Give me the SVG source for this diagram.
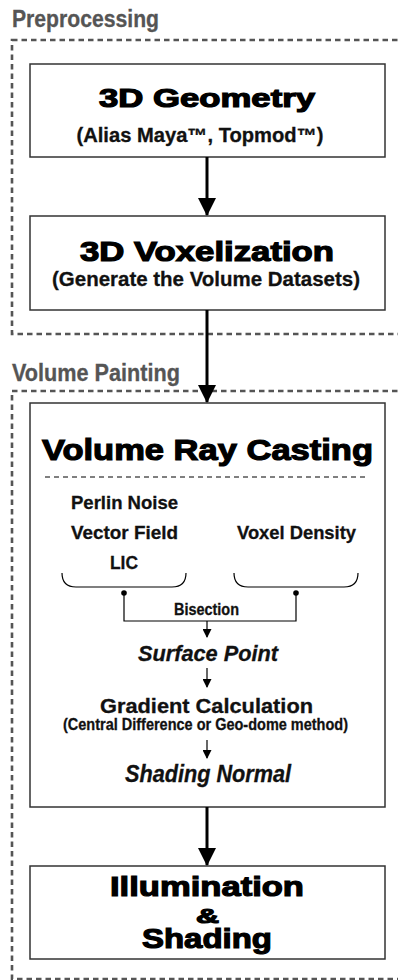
<svg xmlns="http://www.w3.org/2000/svg" width="398" height="980" viewBox="0 0 398 980">
<style>
.frame{fill:none;stroke:#555;stroke-width:2.6;stroke-dasharray:5.5 4}
.box{fill:#fff;stroke:#333;stroke-width:1.5}
.lbl{font-family:"Liberation Sans",Arial,sans-serif;font-weight:bold;fill:#555;stroke:#555;stroke-width:0.3;font-size:23.5px}
.title{font-family:"Liberation Sans",Arial,sans-serif;font-weight:bold;fill:#000;stroke:#000;stroke-width:1.2;text-anchor:middle}
.sub{font-family:"Liberation Sans Narrow","Liberation Sans",Arial,sans-serif;font-weight:bold;fill:#111;stroke:#111;stroke-width:0.3;text-anchor:middle}
.it{font-style:italic}
.conn{fill:none;stroke:#000}
</style>
<defs>
<marker id="bigArrow" markerWidth="18" markerHeight="20" refX="17" refY="9" orient="auto" markerUnits="userSpaceOnUse" viewBox="0 0 18 20">
<path d="M0,0 L18,9 L0,18 Z" fill="#000"/>
</marker>
<marker id="smallArrow" markerWidth="9" markerHeight="9" refX="8" refY="4.5" orient="auto" markerUnits="userSpaceOnUse" viewBox="0 0 9 9">
<path d="M0,0 L9,4.5 L0,9 Z" fill="#000"/>
</marker>
</defs>

<g id="frames">
<rect class="frame" x="12" y="40" width="400" height="294"/>
<rect class="frame" x="12" y="391" width="400" height="588"/>
<text class="lbl" x="12" y="27" textLength="147" lengthAdjust="spacingAndGlyphs">Preprocessing</text>
<text class="lbl" x="12" y="381" textLength="168" lengthAdjust="spacingAndGlyphs">Volume Painting</text>
</g>

<g id="node-geometry">
<rect class="box" x="30" y="64" width="355" height="93"/>
<text class="title" x="207" y="107" font-size="26" textLength="216" lengthAdjust="spacingAndGlyphs">3D Geometry</text>
<text class="sub" x="200" y="141.5" font-size="19.5" textLength="247" lengthAdjust="spacingAndGlyphs">(Alias Maya™, Topmod™)</text>
</g>

<g id="node-voxelization">
<rect class="box" x="30" y="216" width="355" height="94"/>
<text class="title" x="207" y="261" font-size="27" textLength="254" lengthAdjust="spacingAndGlyphs">3D Voxelization</text>
<text class="sub" x="206" y="286" font-size="21" textLength="308" lengthAdjust="spacingAndGlyphs">(Generate the Volume Datasets)</text>
</g>

<g id="node-raycasting">
<rect class="box" x="30" y="403" width="355" height="404"/>
<text class="title" x="207.5" y="460" font-size="30" textLength="331" lengthAdjust="spacingAndGlyphs">Volume Ray Casting</text>
<line x1="45" y1="477" x2="368" y2="477" stroke="#000" stroke-width="1" stroke-dasharray="5 4"/>
<text class="sub" x="124.5" y="508.5" font-size="19" textLength="107" lengthAdjust="spacingAndGlyphs">Perlin Noise</text>
<text class="sub" x="124.5" y="538.5" font-size="19" textLength="107" lengthAdjust="spacingAndGlyphs">Vector Field</text>
<text class="sub" x="124" y="568.5" font-size="19" textLength="28" lengthAdjust="spacingAndGlyphs">LIC</text>
<text class="sub" x="296.5" y="538.5" font-size="19" textLength="119" lengthAdjust="spacingAndGlyphs">Voxel Density</text>
<path d="M62,573 Q62,587 76,587 L172,587 Q186,587 186,573" fill="none" stroke="#000" stroke-width="1.2"/>
<path d="M234,573 Q234,587 248,587 L344,587 Q358,587 358,573" fill="none" stroke="#000" stroke-width="1.2"/>
<text class="sub" x="206.5" y="615" font-size="16.5" textLength="65" lengthAdjust="spacingAndGlyphs">Bisection</text>
<text class="sub it" x="208" y="661" font-size="22" textLength="140" lengthAdjust="spacingAndGlyphs">Surface Point</text>
<text class="sub" x="206.5" y="712.5" font-size="20" textLength="213" lengthAdjust="spacingAndGlyphs">Gradient Calculation</text>
<text class="sub" x="205.5" y="730" font-size="16.5" textLength="285" lengthAdjust="spacingAndGlyphs">(Central Difference or Geo-dome method)</text>
<text class="sub it" x="208" y="782" font-size="23" textLength="166" lengthAdjust="spacingAndGlyphs">Shading Normal</text>
</g>

<g id="node-illumination">
<rect class="box" x="30" y="866" width="355" height="93"/>
<text class="title" x="207" y="896" font-size="28.5" textLength="194" lengthAdjust="spacingAndGlyphs">Illumination</text>
<text class="title" x="207.5" y="922.5" font-size="20" textLength="23" lengthAdjust="spacingAndGlyphs">&amp;</text>
<text class="title" x="207" y="948" font-size="28.5" textLength="130" lengthAdjust="spacingAndGlyphs">Shading</text>
</g>

<g id="connectors">
<line class="conn" x1="207" y1="157" x2="207" y2="215" stroke-width="3" marker-end="url(#bigArrow)"/>
<line class="conn" x1="207" y1="310" x2="207" y2="402" stroke-width="3" marker-end="url(#bigArrow)"/>
<line class="conn" x1="207" y1="807" x2="207" y2="865" stroke-width="3" marker-end="url(#bigArrow)"/>
<circle cx="124" cy="593" r="2.8" fill="#000"/>
<circle cx="296" cy="593" r="2.8" fill="#000"/>
<path class="conn" d="M124,593 L124,621 L296,621 L296,593" stroke-width="1.2"/>
<line class="conn" x1="207" y1="621" x2="207" y2="637" stroke-width="1.2" marker-end="url(#smallArrow)"/>
<line class="conn" x1="207" y1="668" x2="207" y2="687" stroke-width="1.2" marker-end="url(#smallArrow)"/>
<line class="conn" x1="207" y1="740" x2="207" y2="758" stroke-width="1.2" marker-end="url(#smallArrow)"/>
</g>
</svg>
